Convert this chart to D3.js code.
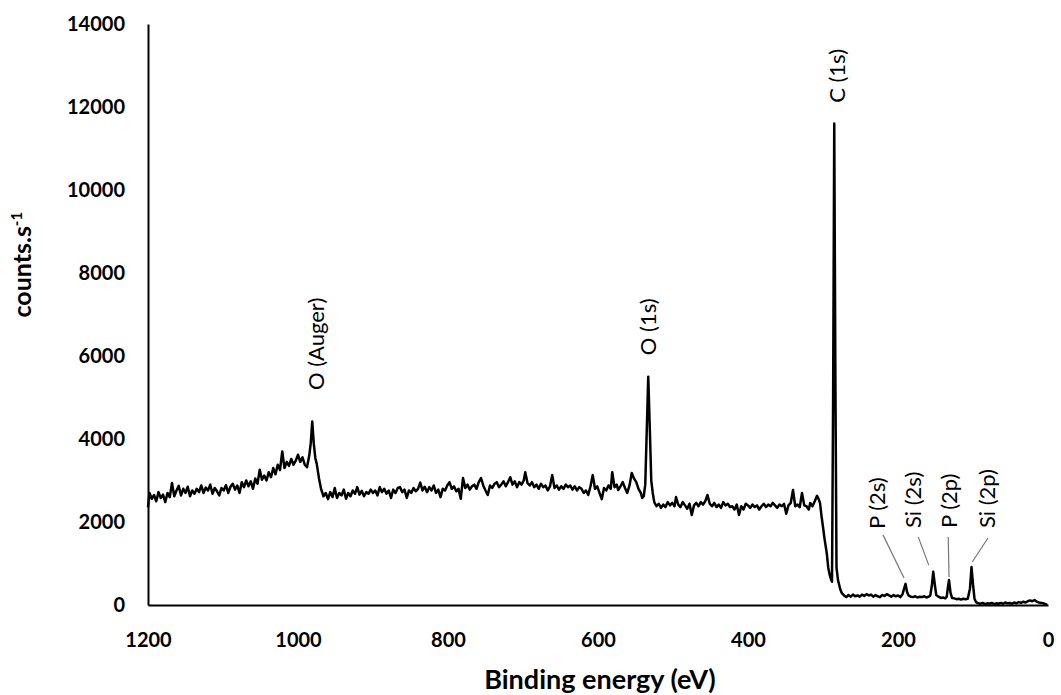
<!DOCTYPE html>
<html>
<head>
<meta charset="utf-8">
<script src="https://cdn.jsdelivr.net/npm/d3@7"></script>
<style>
  body { margin: 0; background: #fff; }
  #chart { width: 1061px; height: 695px; }
  .axis text { font-family: Lato, "Open Sans", sans-serif; font-weight: bold; font-size: 20px; fill: #000; }
  .axis path { stroke: #000; stroke-width: 2px; }
  .axis-label { font-family: Lato, "Open Sans", sans-serif; font-weight: bold; fill: #000; }
  .peak-label { font-family: Lato, "Open Sans", sans-serif; font-size: 22px; fill: #000; }
</style>
</head>
<body>
<div id="chart"></div>
<script>
// spectrum, [binding energy (eV), counts/s]
var augerRegion = [
  [1200, 2350], [1198, 2700], [1195, 2560], [1192, 2650], [1189, 2500], [1186, 2720], [1183, 2580],
  [1180, 2660], [1177, 2480], [1174, 2700], [1171, 2600], [1168, 2940], [1165, 2620], [1162, 2760],
  [1159, 2870], [1156, 2640], [1153, 2800], [1150, 2700], [1147, 2850], [1144, 2620], [1141, 2760],
  [1138, 2680], [1135, 2800], [1132, 2720], [1129, 2880], [1126, 2700], [1123, 2830], [1120, 2760],
  [1117, 2900], [1114, 2680], [1111, 2820], [1108, 2740], [1105, 2640], [1102, 2820], [1099, 2760],
  [1096, 2890], [1093, 2700], [1090, 2850], [1087, 2920], [1084, 2780], [1081, 2880], [1078, 2700],
  [1075, 2960], [1072, 2840], [1069, 3000], [1066, 2860], [1063, 2980], [1060, 2800], [1057, 3050],
  [1054, 2920], [1051, 3260], [1048, 3020], [1045, 3120], [1042, 3000], [1039, 3200], [1036, 3080],
  [1033, 3300], [1030, 3150], [1027, 3380], [1024, 3250], [1021, 3700], [1018, 3300], [1015, 3450],
  [1012, 3350], [1009, 3520], [1006, 3380], [1003, 3480], [1000, 3620], [997, 3450], [994, 3560],
  [991, 3380], [988, 3320], [985, 3600], [983, 3900], [981, 4420], [979, 3900], [977, 3550],
  [975, 3400], [972, 3050], [969, 2780], [966, 2620], [963, 2700], [960, 2550]
];

var bulkRegion = [
  [957, 2720], [954, 2600], [951, 2820], [948, 2580], [945, 2700], [942, 2640], [939, 2780],
  [936, 2560], [933, 2700], [930, 2620], [927, 2760], [924, 2680], [921, 2840], [918, 2660],
  [915, 2750], [912, 2620], [909, 2720], [906, 2680], [903, 2780], [900, 2700], [897, 2760],
  [894, 2640], [891, 2840], [888, 2720], [885, 2800], [882, 2680], [879, 2760], [876, 2580],
  [873, 2780], [870, 2700], [867, 2820], [864, 2840], [861, 2720], [858, 2780], [855, 2580],
  [852, 2760], [849, 2700], [846, 2820], [843, 2740], [840, 2800], [837, 2950], [834, 2760],
  [831, 2850], [828, 2720], [825, 2840], [822, 2760], [819, 2880], [816, 2700], [813, 2780],
  [810, 2600], [807, 2800], [804, 2760], [801, 2880], [798, 2960], [795, 2800], [792, 2860],
  [789, 2740], [786, 2800], [783, 2560], [780, 3060], [777, 2820], [774, 2900], [771, 2780],
  [768, 2860], [765, 2900], [762, 2800], [759, 2960], [756, 3060], [753, 2880], [750, 2760],
  [747, 2650], [744, 2880], [741, 2820], [738, 2920], [735, 2960], [732, 2840], [729, 2900],
  [726, 2980], [723, 2860], [720, 2960], [717, 3080], [714, 2900], [711, 2980], [708, 2840],
  [705, 2960], [702, 2900], [699, 3000], [697, 3200], [694, 2940], [691, 2880], [688, 2960],
  [685, 2840], [682, 2900], [679, 2800], [676, 2920], [673, 2840], [670, 2880], [667, 2760],
  [664, 2860], [661, 3130], [658, 2820], [655, 2880], [652, 2780], [649, 2860], [646, 2800],
  [643, 2900], [640, 2840], [637, 2880], [634, 2780], [631, 2860], [628, 2760], [625, 2840],
  [622, 2800], [619, 2700], [616, 2760], [613, 2650], [610, 2860], [607, 3130], [604, 2800],
  [601, 2860], [598, 2700], [595, 2550], [592, 2820], [589, 2760], [586, 2880], [583, 2800],
  [581, 3200], [578, 2840], [575, 2900], [573, 2770], [570, 2860], [567, 2960], [564, 2820],
  [561, 2700], [558, 2880], [555, 3180], [552, 3050], [549, 2960], [546, 2800], [543, 2700],
  [541, 2580], [539, 2620]
];

var o1sPeak = [
  [537, 2900], [535, 4200], [533, 5500], [531, 4300], [529, 3000], [527, 2700], [525, 2480],
  [522, 2380], [519, 2440], [516, 2340]
];

var midRegion = [
  [513, 2420], [510, 2360], [507, 2480], [504, 2400], [501, 2460], [498, 2380], [496, 2600],
  [493, 2420], [490, 2360], [487, 2480], [484, 2400], [481, 2320], [478, 2440], [475, 2170],
  [472, 2400], [469, 2460], [466, 2380], [463, 2480], [460, 2420], [457, 2500], [454, 2650],
  [451, 2440], [448, 2380], [445, 2460], [442, 2360], [439, 2420], [436, 2340], [433, 2480],
  [430, 2400], [427, 2440], [424, 2360], [421, 2380], [418, 2300], [415, 2420], [412, 2170],
  [409, 2380], [406, 2300], [403, 2440], [400, 2400], [397, 2340], [394, 2420], [391, 2360],
  [388, 2400], [385, 2300], [382, 2380], [379, 2440], [376, 2360], [373, 2420], [370, 2380],
  [367, 2460], [364, 2400], [361, 2340], [358, 2420], [355, 2380], [352, 2440], [349, 2200],
  [346, 2400], [343, 2460], [340, 2770], [337, 2380], [334, 2420], [331, 2360], [328, 2700],
  [325, 2400], [322, 2380], [319, 2300], [317, 2460], [314, 2380], [311, 2500], [308, 2630],
  [306, 2560], [304, 2460]
];

var c1sPeak = [
  [302, 2150], [300, 1880], [298, 1600], [295, 1250], [293, 900], [291, 720], [289, 600],
  [288, 560], [286.5, 5000], [285, 11600], [283.5, 5500], [282, 900], [280, 600], [277, 380],
  [275, 290], [272, 230], [269, 190]
];

var lowRegion = [
  [266, 240], [263, 200], [260, 250], [257, 210], [254, 230], [251, 200], [248, 250], [245, 220],
  [242, 260], [239, 230], [236, 250], [233, 200], [230, 240], [227, 210], [224, 190], [221, 240],
  [218, 220], [215, 260], [212, 230], [209, 200], [206, 240], [203, 210], [200, 230], [197, 190],
  [194, 260], [192, 380], [190, 510], [188, 320], [186, 230], [183, 200], [180, 190], [177, 210],
  [174, 180], [171, 200], [168, 190], [165, 210], [162, 180], [159, 200], [157, 230], [155, 450],
  [153, 800], [151, 500], [149, 240], [146, 200], [143, 170], [140, 180], [137, 160], [135, 200],
  [133.5, 420], [132, 600], [130, 300], [128, 170], [125, 160], [122, 140], [119, 150], [116, 130],
  [113, 150], [110, 140], [107, 150], [104, 400], [102, 915], [100, 500], [98, 150], [96, 70],
  [93, 40], [90, 30], [87, 50], [84, 20], [81, 40], [78, 30], [75, 50], [72, 20], [69, 40],
  [66, 30], [63, 50], [60, 30], [57, 60], [54, 40], [51, 50], [48, 30], [45, 60], [42, 40],
  [39, 70], [36, 50], [33, 80], [30, 60], [27, 90], [24, 110], [21, 90], [18, 120], [15, 80],
  [12, 60], [9, 50], [6, 40], [3, 20], [1, 0]
];

var xTicks = [1200, 1000, 800, 600, 400, 200, 0];
var yTicks = [0, 2000, 4000, 6000, 8000, 10000, 12000, 14000];

// peak labels: text, energy of label centre, counts at label foot
var peakNames = ["O (Auger)", "O (1s)", "C (1s)", "P (2s)", "Si (2s)", "P (2p)", "Si (2p)"];
var peakLabelEnergy = [976, 533, 281, 227, 179, 131, 81];
var peakLabelCounts = [5180, 6020, 12100, 1830, 1855, 1855, 1855];

// leader lines from label to peak: [e1, c1, e2, c2]
var leaderLines = [
  [220, 1690, 192, 650],
  [173, 1640, 159, 960],
  [133, 1640, 132, 675],
  [80, 1615, 101, 1036]
];

class XpsChart {
  constructor(parentElement, data) {
    this.parentElement = parentElement;
    this.data = data;
  }

  initVis() {
    let vis = this;

    vis.margin = { top: 24, right: 13, bottom: 90, left: 148 };
    vis.width = 1061 - vis.margin.left - vis.margin.right;
    vis.height = 695 - vis.margin.top - vis.margin.bottom;

    vis.svg = d3
      .select("#" + vis.parentElement)
      .append("svg")
      .attr("width", 1061)
      .attr("height", 695)
      .append("g")
      .attr("transform", "translate(" + vis.margin.left + "," + vis.margin.top + ")");

    vis.x = d3.scaleLinear().domain([1200, 0]).range([0, vis.width]);
    vis.y = d3.scaleLinear().domain([0, 14000]).range([vis.height, 0]);

    vis.xAxis = d3.axisBottom(vis.x).tickValues(xTicks).tickSize(0).tickPadding(28).tickFormat(d3.format("d"));
    vis.yAxis = d3.axisLeft(vis.y).tickValues(yTicks).tickSize(0).tickPadding(23).tickFormat(d3.format("d"));

    vis.svg.append("g").attr("class", "x-axis axis")
      .attr("transform", "translate(0," + vis.height + ")")
      .call(vis.xAxis);
    vis.svg.append("g").attr("class", "y-axis axis").call(vis.yAxis);

    vis.svg
      .append("text")
      .attr("class", "axis-label")
      .attr("x", vis.x(600) + 2)
      .attr("y", vis.height + 84)
      .attr("text-anchor", "middle")
      .style("font-size", "27px")
      .text("Binding energy (eV)");

    var yLabel = vis.svg
      .append("text")
      .attr("class", "axis-label")
      .attr("transform", "rotate(-90)")
      .attr("x", -vis.y(8200))
      .attr("y", -117)
      .attr("text-anchor", "middle")
      .style("font-size", "25px");
    yLabel.append("tspan").text("counts.s");
    yLabel.append("tspan").attr("baseline-shift", "super").style("font-size", "15px").text("-1");

    vis.updateVis();
  }

  updateVis() {
    let vis = this;

    vis.line = d3.line()
      .x(function (d) { return vis.x(d[0]); })
      .y(function (d) { return vis.y(d[1]); });

    vis.svg.append("path")
      .datum(vis.data)
      .attr("class", "spectrum")
      .attr("d", vis.line)
      .attr("fill", "none")
      .attr("stroke", "#000")
      .attr("stroke-width", 2.5)
      .attr("stroke-linejoin", "round");

    vis.svg.selectAll(".leader")
      .data(leaderLines)
      .enter()
      .append("line")
      .attr("class", "leader")
      .attr("x1", function (d) { return vis.x(d[0]); })
      .attr("y1", function (d) { return vis.y(d[1]); })
      .attr("x2", function (d) { return vis.x(d[2]); })
      .attr("y2", function (d) { return vis.y(d[3]); })
      .attr("stroke", "#777")
      .attr("stroke-width", 1.2);

    vis.svg.selectAll(".peak-label")
      .data(peakNames)
      .enter()
      .append("text")
      .attr("class", "peak-label")
      .attr("transform", function (d, i) {
        return "translate(" + vis.x(peakLabelEnergy[i]) + "," + vis.y(peakLabelCounts[i]) + ") rotate(-90)";
      })
      .attr("dy", "0.35em")
      .attr("text-anchor", "start")
      .text(function (d) { return d; });
  }
}

var spectrum = augerRegion.concat(bulkRegion, o1sPeak, midRegion, c1sPeak, lowRegion);
var chart = new XpsChart("chart", spectrum);
chart.initVis();
</script>
</body>
</html>
